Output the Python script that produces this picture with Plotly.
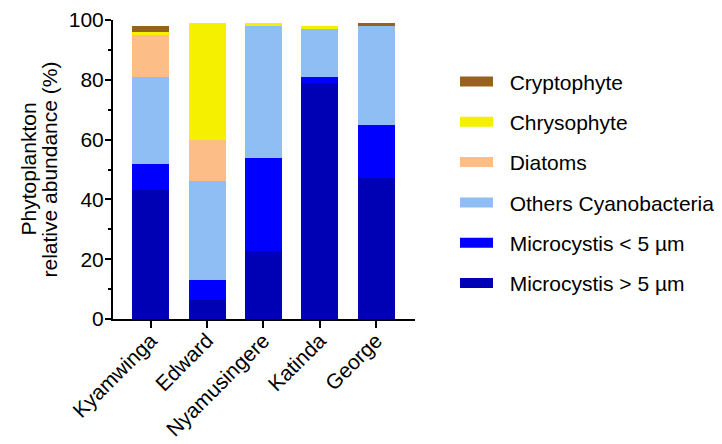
import plotly.graph_objects as go

lakes = ["Kyamwinga", "Edward", "Nyamusingere", "Katinda", "George"]

micro_gt5 = [43, 6.5, 22.6, 79, 47]
micro_lt5 = [9, 6.5, 31.2, 2, 18]
other_cyano = [29, 33, 44.2, 16, 33]
diatoms = [14, 14, 0, 0, 0]
chryso = [1, 39, 1, 1, 0]
crypto = [2, 0, 0, 0, 1]

series = [
    ("Microcystis > 5 µm", micro_gt5, "#0000B4"),
    ("Microcystis < 5 µm", micro_lt5, "#0000FF"),
    ("Others Cyanobacteria", other_cyano, "#8FBEF5"),
    ("Diatoms", diatoms, "#FCBE86"),
    ("Chrysophyte", chryso, "#F5F000"),
    ("Cryptophyte", crypto, "#996120"),
]

FONT = "Arial, Liberation Sans, sans-serif"
FS = 21

# page body has an 8px margin, so the figure is sized to the visible area
W, H = 714, 436
ML, MT = 105, 12
PW, PH = 302, 299.3

fig = go.Figure()
for name, vals, col in series:
    fig.add_trace(go.Bar(x=lakes, y=vals, name=name, marker=dict(color=col, line=dict(width=0)),
                         width=0.66, showlegend=False))

# legend entries (top to bottom) drawn with wide line symbols
for i, (name, vals, col) in enumerate(reversed(series)):
    fig.add_trace(go.Scatter(x=[None], y=[None], mode="lines", name="\u00a0\u00a0" + name,
                             line=dict(color=col, width=11), legendgroup=f"g{i}",
                             showlegend=True, hoverinfo="skip"))

fig.update_layout(
    width=W, height=H,
    barmode="stack",
    paper_bgcolor="white", plot_bgcolor="white",
    margin=dict(l=ML, r=W - ML - PW, t=MT, b=H - MT - PH, autoexpand=False),
    font=dict(family=FONT, size=FS, color="black"),
    legend=dict(x=(447 - ML) / PW, y=(MT + PH - 174.5) / PH,
                xanchor="left", yanchor="middle",
                traceorder="grouped", tracegroupgap=10, itemwidth=33,
                font=dict(family=FONT, size=FS, color="black"),
                bgcolor="rgba(0,0,0,0)"),
    xaxis=dict(range=[-0.67, 4.69], showline=True, linecolor="black", linewidth=2,
               ticks="outside", ticklen=7, tickwidth=2, tickcolor="black",
               tickangle=-45, tickfont=dict(size=FS), showgrid=False, zeroline=False,
               ticklabelstandoff=-8, automargin=False),
    yaxis=dict(range=[0, 100], showline=True, linecolor="black", linewidth=2,
               ticks="outside", ticklen=6, tickwidth=2, tickcolor="black",
               tickvals=[0, 20, 40, 60, 80, 100], tickfont=dict(size=FS),
               ticklabelstandoff=-3,
               minor=dict(tickvals=[10, 30, 50, 70, 90], ticks="outside", ticklen=3,
                          tickwidth=2, tickcolor="black"),
               showgrid=False, zeroline=False, automargin=False),
    annotations=[
        dict(text="Phytoplankton", xref="paper", yref="paper", x=(20 - ML) / PW, y=0.5,
             xanchor="center", yanchor="middle", textangle=-90, showarrow=False,
             font=dict(size=FS)),
        dict(text="relative abundance (%)", xref="paper", yref="paper", x=(41 - ML) / PW, y=0.5,
             xanchor="center", yanchor="middle", textangle=-90, showarrow=False,
             font=dict(size=FS)),
    ],
)

fig.write_html("out.html")
